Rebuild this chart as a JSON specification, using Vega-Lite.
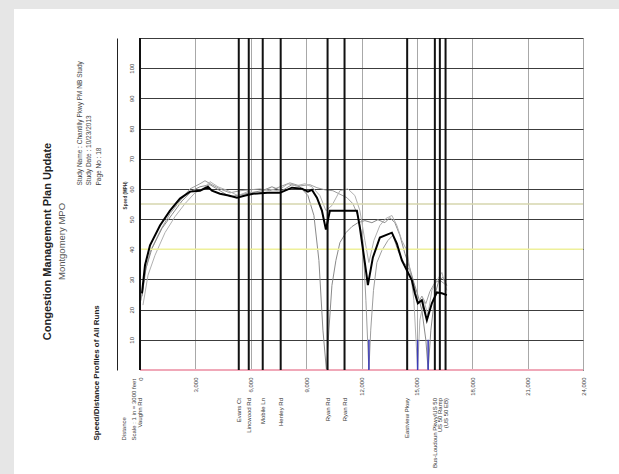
{
  "$schema": "https://vega.github.io/schema/vega-lite/v6.json",
  "width": 605,
  "height": 465,
  "autosize": {"type": "none"},
  "padding": {"left": 14, "top": 9, "right": 0, "bottom": 0},
  "background": "#e6e6e6",
  "config": {"view": {"fill": "white", "stroke": null}, "font": "Liberation Sans"},
  "title": {
    "text": "Congestion Management Plan Update",
    "subtitle": "Montgomery MPO",
    "orient": "left",
    "anchor": "middle",
    "offset": -52,
    "fontSize": 11,
    "fontWeight": "bold",
    "color": "#222222",
    "subtitleFontSize": 9.5,
    "subtitleColor": "#555555",
    "subtitlePadding": 4,
    "font": "Liberation Sans",
    "subtitleFont": "Liberation Sans"
  },
  "datasets": {
    "runs": [
      {"run":"Run 1","d":54,"s":23},{"run":"Run 1","d":271,"s":32.3},{"run":"Run 1","d":542,"s":39},{"run":"Run 1","d":1083,"s":46},{"run":"Run 1","d":1625,"s":51.8},{"run":"Run 1","d":2166,"s":56},{"run":"Run 1","d":2708,"s":60},{"run":"Run 1","d":3249,"s":61.7},{"run":"Run 1","d":3520,"s":62.7},{"run":"Run 1","d":3899,"s":61.4},{"run":"Run 1","d":4332,"s":60},{"run":"Run 1","d":4874,"s":58.7},{"run":"Run 1","d":5415,"s":59.4},{"run":"Run 1","d":5957,"s":59.7},{"run":"Run 1","d":6498,"s":60},{"run":"Run 1","d":7040,"s":59.4},{"run":"Run 1","d":7581,"s":60.7},{"run":"Run 1","d":8123,"s":62},{"run":"Run 1","d":8664,"s":61},{"run":"Run 1","d":9205,"s":61.4},{"run":"Run 1","d":9585,"s":60.4},{"run":"Run 1","d":10018,"s":59.7},{"run":"Run 1","d":10451,"s":59.4},{"run":"Run 1","d":11209,"s":57.1},{"run":"Run 1","d":11534,"s":55.1},{"run":"Run 1","d":11805,"s":51.2},{"run":"Run 1","d":12076,"s":42.9},{"run":"Run 1","d":12238,"s":23.1},{"run":"Run 1","d":12400,"s":0},{"run":"Run 1","d":12500,"s":13.2},{"run":"Run 1","d":12650,"s":26.4},{"run":"Run 1","d":12834,"s":35.6},{"run":"Run 1","d":13104,"s":39.6},{"run":"Run 1","d":13429,"s":42.9},{"run":"Run 1","d":13700,"s":44.6},{"run":"Run 1","d":13971,"s":39.6},{"run":"Run 1","d":14295,"s":35.6},{"run":"Run 1","d":14620,"s":33},{"run":"Run 1","d":14891,"s":27.1},{"run":"Run 1","d":15054,"s":22},{"run":"Run 1","d":15271,"s":24.5},{"run":"Run 1","d":15487,"s":22},{"run":"Run 1","d":15704,"s":26},{"run":"Run 1","d":15975,"s":29},{"run":"Run 1","d":16245,"s":29.7},{"run":"Run 1","d":16624,"s":28},
      {"run":"Run 2","d":108,"s":24.4},{"run":"Run 2","d":325,"s":33.7},{"run":"Run 2","d":650,"s":40.3},{"run":"Run 2","d":1191,"s":46.9},{"run":"Run 2","d":1733,"s":51.5},{"run":"Run 2","d":2274,"s":56},{"run":"Run 2","d":2816,"s":59.4},{"run":"Run 2","d":3249,"s":60.7},{"run":"Run 2","d":3791,"s":61.4},{"run":"Run 2","d":4332,"s":59.4},{"run":"Run 2","d":4874,"s":57.4},{"run":"Run 2","d":5415,"s":58},{"run":"Run 2","d":5957,"s":58.7},{"run":"Run 2","d":6606,"s":59.4},{"run":"Run 2","d":7148,"s":60.7},{"run":"Run 2","d":7689,"s":59.4},{"run":"Run 2","d":8231,"s":61.4},{"run":"Run 2","d":8664,"s":60.7},{"run":"Run 2","d":9097,"s":57.8},{"run":"Run 2","d":9422,"s":51.2},{"run":"Run 2","d":9693,"s":36.3},{"run":"Run 2","d":9910,"s":13.2},{"run":"Run 2","d":10100,"s":0},{"run":"Run 2","d":10234,"s":13.2},{"run":"Run 2","d":10397,"s":28},{"run":"Run 2","d":10613,"s":36.3},{"run":"Run 2","d":10830,"s":42.2},{"run":"Run 2","d":11155,"s":45.5},{"run":"Run 2","d":11480,"s":47.5},{"run":"Run 2","d":11805,"s":48.8},{"run":"Run 2","d":12184,"s":49.5},{"run":"Run 2","d":12563,"s":48.8},{"run":"Run 2","d":12888,"s":49.8},{"run":"Run 2","d":13267,"s":48.8},{"run":"Run 2","d":13537,"s":50.5},{"run":"Run 2","d":13808,"s":48.8},{"run":"Run 2","d":14079,"s":44.6},{"run":"Run 2","d":14350,"s":38.6},{"run":"Run 2","d":14620,"s":33.7},{"run":"Run 2","d":14837,"s":29},{"run":"Run 2","d":15054,"s":24.8},{"run":"Run 2","d":15271,"s":19.8},{"run":"Run 2","d":15487,"s":9.9},{"run":"Run 2","d":15610,"s":0},{"run":"Run 2","d":15758,"s":13.2},{"run":"Run 2","d":15975,"s":24.8},{"run":"Run 2","d":16191,"s":29.7},{"run":"Run 2","d":16408,"s":30.7},{"run":"Run 2","d":16624,"s":28},
      {"run":"Run 3","d":162,"s":21.5},{"run":"Run 3","d":433,"s":31.4},{"run":"Run 3","d":812,"s":38},{"run":"Run 3","d":1354,"s":45.5},{"run":"Run 3","d":1895,"s":50.8},{"run":"Run 3","d":2437,"s":55.1},{"run":"Run 3","d":2978,"s":58.7},{"run":"Run 3","d":3412,"s":60},{"run":"Run 3","d":3791,"s":62.4},{"run":"Run 3","d":4224,"s":60.7},{"run":"Run 3","d":4765,"s":59.4},{"run":"Run 3","d":5307,"s":57.8},{"run":"Run 3","d":5849,"s":59.1},{"run":"Run 3","d":6390,"s":58.4},{"run":"Run 3","d":6931,"s":60},{"run":"Run 3","d":7473,"s":59.4},{"run":"Run 3","d":8014,"s":61.7},{"run":"Run 3","d":8447,"s":61},{"run":"Run 3","d":8935,"s":61.7},{"run":"Run 3","d":9314,"s":60.7},{"run":"Run 3","d":9747,"s":57.8},{"run":"Run 3","d":10072,"s":52.8},{"run":"Run 3","d":10397,"s":54.5},{"run":"Run 3","d":10830,"s":59.4},{"run":"Run 3","d":11263,"s":60},{"run":"Run 3","d":11642,"s":57.8},{"run":"Run 3","d":11913,"s":52.8},{"run":"Run 3","d":12184,"s":42.9},{"run":"Run 3","d":12400,"s":35.6},{"run":"Run 3","d":12671,"s":42.9},{"run":"Run 3","d":12996,"s":47.9},{"run":"Run 3","d":13321,"s":50.2},{"run":"Run 3","d":13646,"s":51.2},{"run":"Run 3","d":13916,"s":47.9},{"run":"Run 3","d":14187,"s":42.9},{"run":"Run 3","d":14458,"s":39.6},{"run":"Run 3","d":14674,"s":31.4},{"run":"Run 3","d":14837,"s":23.1},{"run":"Run 3","d":15040,"s":0},{"run":"Run 3","d":15162,"s":16.5},{"run":"Run 3","d":15379,"s":23.1},{"run":"Run 3","d":15596,"s":18.2},{"run":"Run 3","d":15812,"s":26.4},{"run":"Run 3","d":16083,"s":29.7},{"run":"Run 3","d":16353,"s":32.3},{"run":"Run 3","d":16624,"s":26.4}
    ],
    "average": [
      {"d":108,"s":25.4},{"d":271,"s":34.7},{"d":542,"s":41.3},{"d":1083,"s":47.9},{"d":1625,"s":52.8},{"d":2166,"s":56.8},{"d":2708,"s":59.1},{"d":3249,"s":59.4},{"d":3682,"s":60.7},{"d":3899,"s":59.4},{"d":4332,"s":58.4},{"d":4800,"s":57.8},{"d":5253,"s":57.1},{"d":5700,"s":57.8},{"d":6119,"s":58.4},{"d":6900,"s":58.7},{"d":7581,"s":58.7},{"d":8231,"s":60.4},{"d":8772,"s":60.1},{"d":9097,"s":59.1},{"d":9314,"s":59.7},{"d":9585,"s":57.1},{"d":9855,"s":52.8},{"d":10072,"s":46.5},{"d":10289,"s":52.8},{"d":11751,"s":52.8},{"d":11913,"s":47.2},{"d":12292,"s":30.7},{"d":12346,"s":28.1},{"d":12617,"s":37.3},{"d":12996,"s":43.9},{"d":13646,"s":45.5},{"d":13916,"s":41.9},{"d":14187,"s":36.3},{"d":14458,"s":33.0},{"d":14729,"s":29.7},{"d":14891,"s":25.4},{"d":15054,"s":22.1},{"d":15271,"s":23.1},{"d":15541,"s":16.5},{"d":15812,"s":22.1},{"d":16083,"s":25.7},{"d":16353,"s":25.4},{"d":16624,"s":24.8}
    ],
    "stops": [{"d":12400},{"d":15040},{"d":15610}],
    "intersections": [
      {"d":0,"name":"Vaughn Rd"},
      {"d":5351,"name":"Evans Ct"},
      {"d":5892,"name":"Lincwood Rd"},
      {"d":6649,"name":"Mobile Ln"},
      {"d":7622,"name":"Henley Rd"},
      {"d":10162,"name":"Ryan Rd"},
      {"d":11081,"name":"Ryan Rd"},
      {"d":14474,"name":"Eastview Pkwy"},
      {"d":15974,"name":"Bus-Loudoun Pkwy/US 50"},
      {"d":16245,"name":"US 50 Ramp"},
      {"d":16554,"name":"(US 50 EB)"}
    ],
    "one": [{"k":1}]
  },
  "layer": [
    {
      "data": {"name": "runs"},
      "mark": {"type": "line", "strokeWidth": 1},
      "encoding": {
        "x": {
          "field": "d", "type": "quantitative",
          "scale": {"domain": [0, 24000], "range": [126, 569], "nice": false, "zero": false},
          "axis": {
            "orient": "bottom", "offset": -104,
            "values": [0,3000,6000,9000,12000,15000,18000,21000,24000],
            "labelExpr": "format(datum.value, ',')",
            "labelAngle": 270, "labelAlign": "right", "labelBaseline": "middle",
            "labelPadding": 7, "labelFontSize": 6, "labelColor": "#444444",
            "labelFlush": false, "labelOverlap": false,
            "ticks": false, "domain": false,
            "grid": false,
            "title": ["Distance", "Scale : 1 in = 3000 feet"],
            "titleAngle": 270, "titleAlign": "left", "titleBaseline": "top",
            "titleX": 106, "titleY": 70, "titleFontSize": 6, "titleFontWeight": "normal",
            "titleLineHeight": 10, "titleColor": "#444444"
          }
        },
        "y": {
          "field": "s", "type": "quantitative",
          "scale": {"domain": [0, 110], "range": [361, 29], "nice": false, "zero": false},
          "axis": {
            "orient": "left", "offset": -103,
            "values": [0,10,20,30,40,50,60,70,80,90,100,110],
            "labelExpr": "datum.value == 0 || datum.value == 110 ? '' : format(datum.value, 'd')",
            "labelAngle": 270, "labelAlign": "center", "labelBaseline": "bottom",
            "labelPadding": -17, "labelFontSize": 6, "labelColor": "#444444",
            "labelFlush": false, "labelOverlap": false,
            "ticks": false, "domain": true, "domainColor": "#222222", "domainWidth": 1,
            "grid": true, "gridColor": "#3c3c3c", "gridWidth": 1,
            "title": "Speed (MPH)",
            "titleAngle": 270, "titleAlign": "center", "titleBaseline": "middle",
            "titleX": 8, "titleY": 186, "titleFontSize": 4.5, "titleFontWeight": "bold", "titleColor": "#333333"
          }
        },
        "detail": {"field": "run", "type": "nominal"},
        "color": {"field": "run", "type": "nominal", "scale": {"domain": ["Run 1","Run 2","Run 3"], "range": ["#9d9d9d","#8a8a8a","#b0b0b0"]}, "legend": null}
      }
    },
    {
      "data": {"name": "one"},
      "mark": {"type": "rule", "color": "#f0a8b8", "strokeWidth": 2},
      "encoding": {
        "x": {"datum": 0, "type": "quantitative", "axis": null},
        "x2": {"datum": 24000},
        "y": {"datum": 0, "type": "quantitative", "axis": null}
      }
    },
    {
      "data": {"name": "one"},
      "mark": {"type": "rule", "color": "#d6d6ae", "strokeWidth": 1.5},
      "encoding": {
        "x": {"datum": 0, "type": "quantitative", "axis": null},
        "x2": {"datum": 24000},
        "y": {"datum": 55, "type": "quantitative", "axis": null}
      }
    },
    {
      "data": {"name": "one"},
      "mark": {"type": "rule", "color": "#eef09a", "strokeWidth": 1.5},
      "encoding": {
        "x": {"datum": 0, "type": "quantitative", "axis": null},
        "x2": {"datum": 24000},
        "y": {
          "datum": 40, "type": "quantitative",
          "axis": {
            "orient": "right", "labels": false, "ticks": false, "domain": false, "grid": false,
            "title": "Speed/Distance Profiles of All Runs",
            "titleAngle": 270, "titleAlign": "left", "titleBaseline": "middle",
            "titleX": -523, "titleY": 431, "titleFontSize": 8, "titleFontWeight": "bold", "titleColor": "#222222"
          }
        }
      }
    },
    {
      "data": {"name": "intersections"},
      "mark": {"type": "rule", "color": "#111111", "strokeWidth": 2},
      "encoding": {
        "x": {
          "field": "d", "type": "quantitative",
          "axis": {
            "orient": "top", "labels": false, "ticks": false, "domain": false,
            "values": [0,3000,6000,9000,12000,15000,18000,21000,24000],
            "grid": true, "gridColor": "#a8a8a8", "gridWidth": 1,
            "title": ["Study Name : Chantilly Pkwy PM NB Study", "Study Date : 10/23/2013", "Page No : 18"],
            "titleAngle": 270, "titleAlign": "left", "titleBaseline": "top",
            "titleX": 62, "titleY": 176, "titleFontSize": 6.5, "titleFontWeight": "normal",
            "titleLineHeight": 9.5, "titleColor": "#444444"
          }
        },
        "y": {"datum": 0, "type": "quantitative", "axis": null},
        "y2": {"datum": 110}
      }
    },
    {
      "data": {"name": "stops"},
      "mark": {"type": "rule", "color": "#3b3bb8", "strokeWidth": 1.5},
      "encoding": {
        "x": {"field": "d", "type": "quantitative", "axis": null},
        "y": {"datum": 0, "type": "quantitative", "axis": null},
        "y2": {"datum": 10}
      }
    },
    {
      "data": {"name": "average"},
      "mark": {"type": "line", "color": "#000000", "strokeWidth": 2},
      "encoding": {
        "x": {"field": "d", "type": "quantitative", "axis": null},
        "y": {"field": "s", "type": "quantitative", "axis": null}
      }
    },
    {
      "data": {"name": "intersections"},
      "mark": {"type": "text", "angle": 270, "align": "right", "baseline": "middle", "fontSize": 6, "color": "#333333", "yOffset": 28},
      "encoding": {
        "x": {"field": "d", "type": "quantitative", "axis": null},
        "y": {"datum": 0, "type": "quantitative", "axis": null},
        "text": {"field": "name"}
      }
    }
  ],
  "resolve": {"axis": {"x": "independent", "y": "independent"}}
}
